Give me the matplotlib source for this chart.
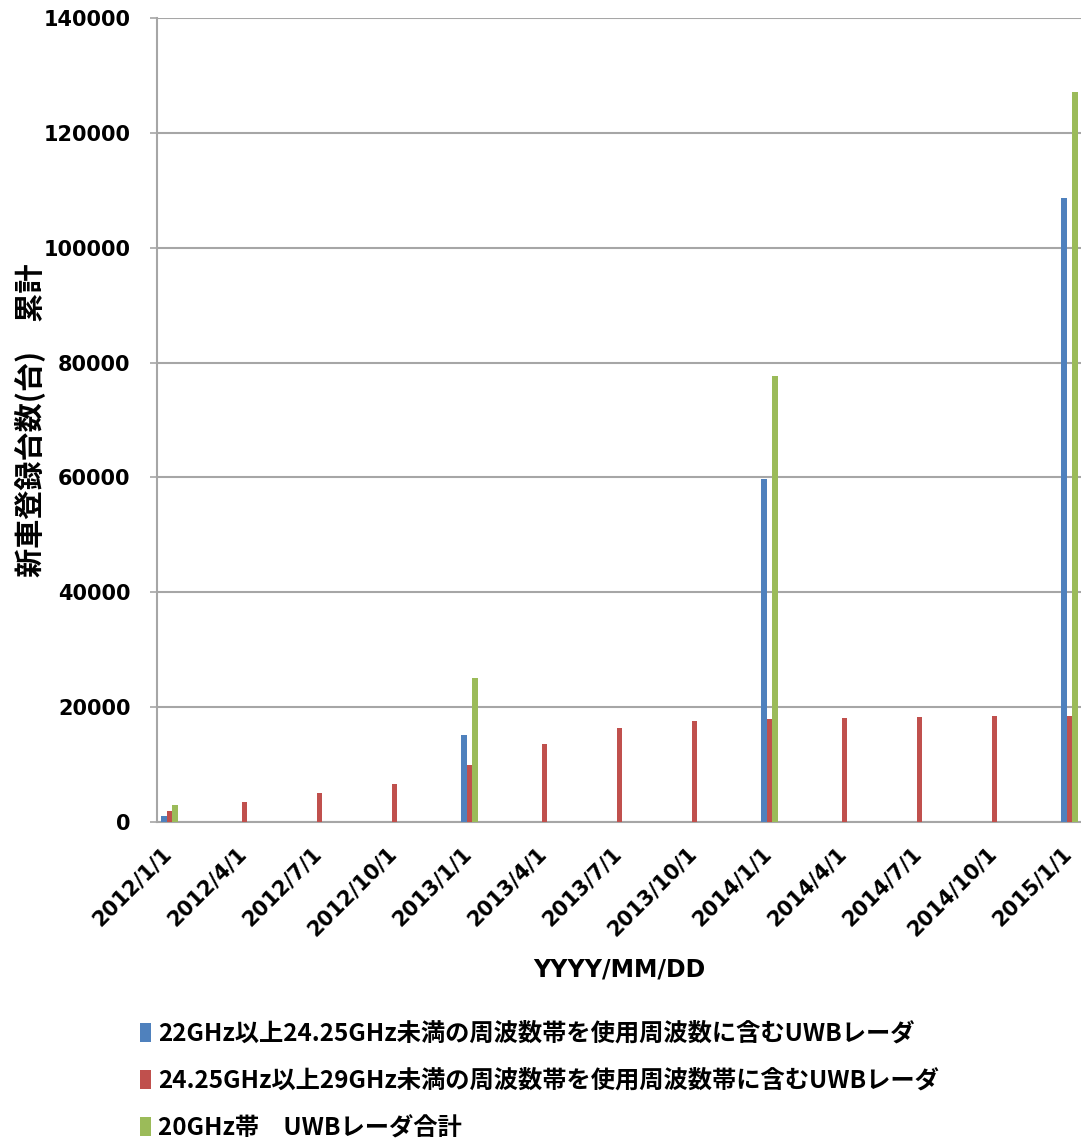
import matplotlib
matplotlib.use("Agg")
import matplotlib.pyplot as plt
import matplotlib.transforms as mtransforms
import numpy as np

# quarterly dates (category axis)
dates = ["2012/1/1", "2012/4/1", "2012/7/1", "2012/10/1",
         "2013/1/1", "2013/4/1", "2013/7/1", "2013/10/1",
         "2014/1/1", "2014/4/1", "2014/7/1", "2014/10/1",
         "2015/1/1"]
nan = np.nan
uwb_22 = [1000, nan, nan, nan, 15200, nan, nan, nan, 59700, nan, nan, nan, 108700]
uwb_24 = [2000, 3500, 5000, 6700, 9900, 13600, 16400, 17600, 17900, 18100, 18300, 18450, 18500]
uwb_total = [3000, nan, nan, nan, 25100, nan, nan, nan, 77600, nan, nan, nan, 127200]

labels = ["22GHz以上24.25GHz未満の周波数帯を使用周波数に含むUWBレーダ",
          "24.25GHz以上29GHz未満の周波数帯を使用周波数帯に含むUWBレーダ",
          "20GHz帯　UWBレーダ合計"]
colors = ["#4F81BD", "#C0504D", "#9BBB59"]

plt.rcParams["font.family"] = ["DejaVu Sans", "Noto Sans CJK JP"]
cjk = ["Noto Sans CJK JP", "DejaVu Sans"]

fig = plt.figure(figsize=(10.81, 11.42), dpi=100)
ax = fig.add_axes([157 / 1081, 1 - 822 / 1142, 924 / 1081, 804 / 1142])

x = np.arange(len(dates))
w = 0.075
for off, vals, c, lab in zip([-w, 0, w], [uwb_22, uwb_24, uwb_total], colors, labels):
    ax.bar(x + off, vals, width=w, color=c, label=lab, zorder=3)

ax.set_ylim(0, 140000)
ax.set_yticks(np.arange(0, 140001, 20000))
ax.set_xlim(-0.167, 12.153)
ax.set_xticks(x)

ax.yaxis.grid(True, color="#a6a6a6", linewidth=1.5, zorder=0)
ax.set_axisbelow(True)
for s in ["top", "right"]:
    ax.spines[s].set_visible(False)
for s in ["left", "bottom"]:
    ax.spines[s].set_color("#a6a6a6")
    ax.spines[s].set_linewidth(1.5)
ax.tick_params(axis="y", length=5, width=1.2, color="#a6a6a6", pad=14)
ax.tick_params(axis="x", length=0, pad=15)

ax.set_xticklabels(dates, rotation=45, ha="right", va="top",
                   rotation_mode="anchor", fontsize=15, fontweight="bold")
# nudge date labels a little to the left, like the original
shift = mtransforms.ScaledTranslation(-8 / 100, 0, fig.dpi_scale_trans)
for lbl in ax.get_xticklabels():
    lbl.set_transform(lbl.get_transform() + shift)
for lbl in ax.get_yticklabels():
    lbl.set_fontsize(15)
    lbl.set_fontweight("bold")

ax.set_xlabel("YYYY/MM/DD", fontsize=17, fontweight="bold")
ax.xaxis.set_label_coords(0.5, -0.168)
ax.set_ylabel("新車登録台数(台)　累計", fontsize=21, fontweight="bold", family=cjk)
ax.yaxis.set_label_coords(-0.12, 0.5)

leg = fig.legend(loc="upper left", bbox_to_anchor=(118 / 1081, 1 - 1000 / 1142),
                 frameon=False, handlelength=0.45, handleheight=0.8,
                 handletextpad=0.3, labelspacing=0.95,
                 prop={"family": cjk, "weight": "bold", "size": 17.5})

fig.savefig("out.png", dpi=100)
